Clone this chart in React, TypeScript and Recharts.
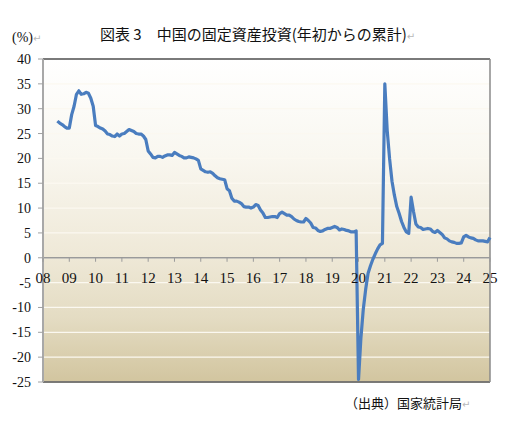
import React from "react";
import {
  LineChart,
  Line,
  XAxis,
  YAxis,
  CartesianGrid,
  ReferenceLine,
  ReferenceDot,
} from "recharts";

// Cumulative year-to-date fixed asset investment growth (%), Feb..Dec of each year
const years = [2008, 2009, 2010, 2011, 2012, 2013, 2014, 2015, 2016, 2017, 2018, 2019, 2020, 2021, 2022, 2023, 2024, 2025];
const fai2008 = [null, null, null, null, null, null, 27.5, 27.1, 26.8, 26.4, 26.1];
const fai2009 = [26.1, 28.8, 30.5, 32.9, 33.6, 32.9, 33.0, 33.3, 33.1, 32.1, 30.5];
const fai2010 = [26.6, 26.4, 26.1, 25.9, 25.5, 24.9, 24.8, 24.5, 24.4, 24.9, 24.5];
const fai2011 = [24.9, 25.0, 25.4, 25.8, 25.6, 25.4, 25.0, 24.9, 24.9, 24.5, 23.8];
const fai2012 = [21.5, 20.9, 20.2, 20.1, 20.4, 20.4, 20.2, 20.5, 20.7, 20.7, 20.6];
const fai2013 = [21.2, 20.9, 20.6, 20.4, 20.1, 20.1, 20.3, 20.2, 20.1, 19.9, 19.6];
const fai2014 = [17.9, 17.6, 17.3, 17.2, 17.3, 17.0, 16.5, 16.1, 15.9, 15.8, 15.7];
const fai2015 = [13.9, 13.5, 12.0, 11.4, 11.4, 11.2, 10.9, 10.3, 10.2, 10.2, 10.0];
const fai2016 = [10.2, 10.7, 10.5, 9.6, 9.0, 8.1, 8.1, 8.2, 8.3, 8.3, 8.1];
const fai2017 = [8.9, 9.2, 8.9, 8.6, 8.6, 8.3, 7.8, 7.5, 7.3, 7.2, 7.2];
const fai2018 = [7.9, 7.5, 7.0, 6.1, 6.0, 5.5, 5.3, 5.4, 5.7, 5.9, 5.9];
const fai2019 = [6.1, 6.3, 6.1, 5.6, 5.8, 5.7, 5.5, 5.4, 5.2, 5.2, 5.4];
const fai2020 = [-24.5, -16.1, -10.3, -6.3, -3.1, -1.6, -0.3, 0.8, 1.8, 2.6, 2.9];
const fai2021 = [35.0, 25.6, 19.9, 15.4, 12.6, 10.3, 8.9, 7.3, 6.1, 5.2, 4.9];
const fai2022 = [12.2, 9.3, 6.8, 6.2, 6.1, 5.7, 5.8, 5.9, 5.8, 5.3, 5.1];
const fai2023 = [5.5, 5.1, 4.7, 4.0, 3.8, 3.4, 3.2, 3.1, 2.9, 2.9, 3.0];
const fai2024 = [4.2, 4.5, 4.2, 4.0, 3.9, 3.6, 3.4, 3.4, 3.4, 3.3, 3.2];
const fai2025 = [4.1];

const yearlyValues = [
  fai2008, fai2009, fai2010, fai2011, fai2012, fai2013, fai2014, fai2015, fai2016,
  fai2017, fai2018, fai2019, fai2020, fai2021, fai2022, fai2023, fai2024, fai2025,
];

const yearTickLabels = ["08", "09", "10", "11", "12", "13", "14", "15", "16", "17", "18", "19", "20", "21", "22", "23", "24", "25"];
const yTicks = [-25, -20, -15, -10, -5, 0, 5, 10, 15, 20, 25, 30, 35, 40];

const data: { k: string; v: number | null }[] = [];
years.forEach((y, i) => {
  yearlyValues[i].forEach((v, j) => {
    data.push({ k: `${y}-${j + 2}`, v: v as number | null });
  });
});

const SERIF = "'Liberation Serif', 'DejaVu Serif', serif";
const CJK = "'Noto Sans CJK JP', sans-serif";

const Ret = () => (
  <span style={{ fontFamily: "'DejaVu Sans', sans-serif", color: "#b8b8b8", fontSize: 10 }}>↵</span>
);

export default function App() {
  return (
    <div style={{ position: "absolute", left: 0, top: 0, width: 506, height: 432, background: "#fff" }}>
      <div
        style={{
          position: "absolute",
          left: 100,
          top: 26,
          fontFamily: CJK,
          fontSize: 15,
          lineHeight: "16px",
          whiteSpace: "nowrap",
          color: "#111",
        }}
      >
        図表 3　中国の固定資産投資(年初からの累計)<Ret />
      </div>
      <div
        style={{
          position: "absolute",
          left: 12,
          top: 30,
          fontFamily: SERIF,
          fontSize: 14,
          lineHeight: "15px",
          whiteSpace: "nowrap",
          color: "#111",
        }}
      >
        (%)<Ret />
      </div>
      <div
        style={{
          position: "absolute",
          left: 345,
          top: 396,
          fontFamily: CJK,
          fontSize: 13,
          lineHeight: "14px",
          whiteSpace: "nowrap",
          color: "#111",
        }}
      >
        （出典）国家統計局<Ret />
      </div>
      <div style={{ position: "absolute", left: 0, top: 0 }}>
        <LineChart width={506} height={432} data={data} margin={{ top: 59, right: 16, bottom: 50, left: 13 }}>
          <defs>
            <linearGradient id="bgGrad" x1="0" y1="0" x2="0" y2="1">
              <stop offset="0%" stopColor="#ffffff" />
              <stop offset="30%" stopColor="#f9f7f0" />
              <stop offset="60%" stopColor="#efe9d8" />
              <stop offset="80%" stopColor="#e4dcc3" />
              <stop offset="100%" stopColor="#d2c59f" />
            </linearGradient>
          </defs>
          <CartesianGrid
            vertical={false}
            stroke="#fbf8f0"
            strokeWidth={1.3}
            fill="url(#bgGrad)"
            fillOpacity={1}
          />
          <XAxis dataKey="k" type="category" hide />
          <YAxis
            width={30}
            domain={[-25, 40]}
            ticks={yTicks}
            interval={0}
            tickSize={5}
            tickMargin={7}
            allowDataOverflow
            axisLine={{ stroke: "#a8a8a8", strokeWidth: 2 }}
            tickLine={{ stroke: "#a0a0a0", strokeWidth: 1 }}
            tick={{ fontFamily: SERIF, fontSize: 14, fill: "#111" }}
          />
          <ReferenceLine y={40} stroke="#7a7a7a" strokeWidth={2} />
          <ReferenceLine y={-25} stroke="#505050" strokeWidth={1.5} />
          <ReferenceLine x={`${years[years.length - 1]}-2`} stroke="#8a8a8a" strokeWidth={1.5} />
          <ReferenceLine y={0} stroke="#9a9a9a" strokeWidth={1.5} />
          {years.map((y, i) => (
            <ReferenceDot
              key={y}
              x={`${y}-2`}
              y={0}
              r={0}
              ifOverflow="visible"
              shape={(p: any) => (
                <g>
                  <line x1={p.cx} x2={p.cx} y1={p.cy} y2={p.cy + 4} stroke="#9a9a9a" strokeWidth={1} />
                  <text
                    x={p.cx}
                    y={p.cy + 20}
                    textAnchor="middle"
                    dominantBaseline="central"
                    fontFamily={SERIF}
                    fontSize={15}
                    fill="#111"
                  >
                    {yearTickLabels[i]}
                  </text>
                </g>
              )}
            />
          ))}
          <Line
            type="linear"
            dataKey="v"
            stroke="#4a7dbf"
            strokeWidth={3.2}
            strokeLinejoin="round"
            dot={false}
            connectNulls={false}
            isAnimationActive={false}
          />
        </LineChart>
      </div>
    </div>
  );
}
